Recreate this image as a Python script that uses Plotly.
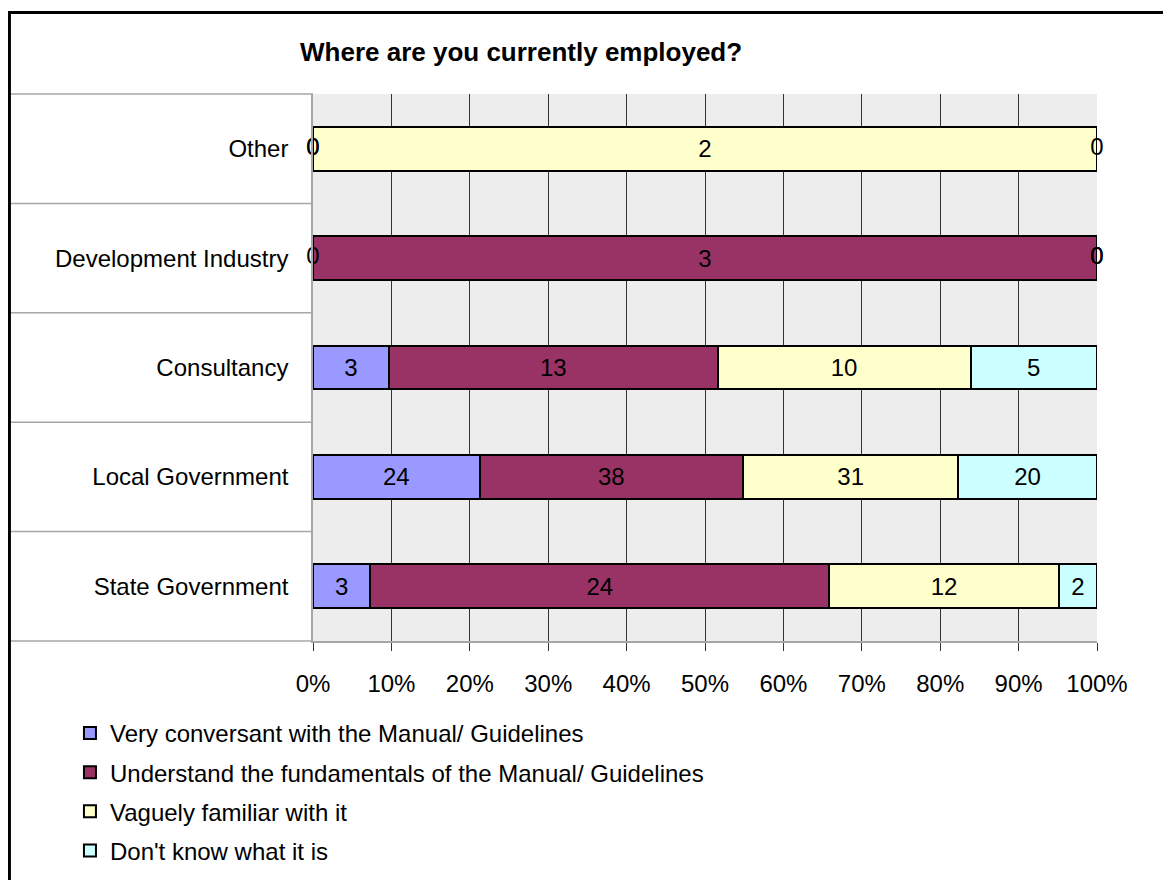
import plotly.graph_objects as go

# Employment categories, bottom to top as drawn
categories = ["State Government", "Local Government", "Consultancy",
              "Development Industry", "Other"]

series_names = [
    "Very conversant with the Manual/ Guidelines",
    "Understand the fundamentals of the Manual/ Guidelines",
    "Vaguely familiar with it",
    "Don't know what it is",
]
very_conversant = [3, 24, 3, 0, 0]
understand = [24, 38, 13, 3, 0]
vaguely = [12, 31, 10, 0, 2]
dont_know = [2, 20, 5, 0, 0]

series_values = [very_conversant, understand, vaguely, dont_know]
series_colors = ["#9999FF", "#993366", "#FFFFCC", "#CCFFFF"]
tick_values = list(range(0, 101, 10))
tick_labels = [f"{v}%" for v in tick_values]

FONT = "Arial, Liberation Sans, sans-serif"

fig = go.Figure()

for name, values, color in zip(series_names, series_values, series_colors):
    fig.add_trace(
        go.Bar(
            y=categories,
            x=values,
            orientation="h",
            name=name,
            legendgroup=name,
            marker={"color": color, "line": {"color": "black", "width": 2}},
            text=[str(v) if v else "" for v in values],
            texttemplate="%{text}",
            textposition="inside",
            insidetextanchor="middle",
            textangle=0,
            textfont={"color": "black", "size": 24, "family": FONT},
            width=0.4,
        )
    )

# Zero-valued segments still get a "0" label at their (zero-width) position
zero_x, zero_y = [], []
for i, cat in enumerate(categories):
    total = sum(vals[i] for vals in series_values)
    running = 0
    for vals in series_values:
        if vals[i] == 0:
            zero_x.append(100 * running / total)
            zero_y.append(cat)
        running += vals[i]

fig.add_trace(
    go.Scatter(
        x=zero_x,
        y=zero_y,
        mode="text",
        text=["0"] * len(zero_x),
        textposition="middle center",
        textfont={"color": "black", "size": 24, "family": FONT},
        showlegend=False,
        cliponaxis=False,
        hoverinfo="skip",
    )
)

shapes = []
# category dividers in the label area
for k in range(6):
    shapes.append(dict(type="line", xref="paper", yref="paper",
                       x0=-0.389, x1=0, y0=k / 5, y1=k / 5,
                       line={"color": "#A6A6A6", "width": 1.5}))
# outer frame (left and top edges visible)
shapes.append(dict(type="rect", xref="paper", yref="paper",
                   x0=-0.3872, x1=1.2, y0=-0.6, y1=1.149,
                   line={"color": "black", "width": 3}))

fig.update_layout(
    width=1163,
    height=872,
    barmode="stack",
    barnorm="percent",
    paper_bgcolor="white",
    plot_bgcolor="#EDEDED",
    margin={"l": 305, "r": 74, "t": 86, "b": 239},
    font={"family": FONT, "size": 24, "color": "black"},
    shapes=shapes,
    showlegend=True,
    legend={
        "x": -0.31,
        "y": 0.194,
        "yref": "container",
        "xanchor": "left",
        "yanchor": "top",
        "traceorder": "grouped",
        "tracegroupgap": 5,
        "font": {"size": 24, "family": FONT},
        "bgcolor": "rgba(0,0,0,0)",
    },
    annotations=[
        dict(text="<b>Where are you currently employed?</b>",
             xref="paper", yref="paper", x=0.265, y=1.077,
             xanchor="center", yanchor="middle", showarrow=False,
             font={"size": 26, "family": FONT, "color": "black"})
    ],
)

fig.update_xaxes(
    range=[0, 100],
    tickvals=tick_values,
    ticktext=tick_labels,
    showgrid=True,
    gridcolor="#333333",
    gridwidth=1.2,
    ticks="outside",
    ticklen=8,
    tickcolor="#333333",
    ticklabelstandoff=12,
    showline=True,
    linecolor="#A6A6A6",
    linewidth=1.5,
    zeroline=False,
    tickfont={"size": 24},
    fixedrange=True,
)
fig.update_yaxes(
    categoryorder="array",
    categoryarray=categories,
    showgrid=False,
    showline=True,
    linecolor="#A6A6A6",
    linewidth=1.5,
    ticks="",
    ticklabelstandoff=18,
    tickfont={"size": 24},
    fixedrange=True,
)

fig.write_html("out.html")
